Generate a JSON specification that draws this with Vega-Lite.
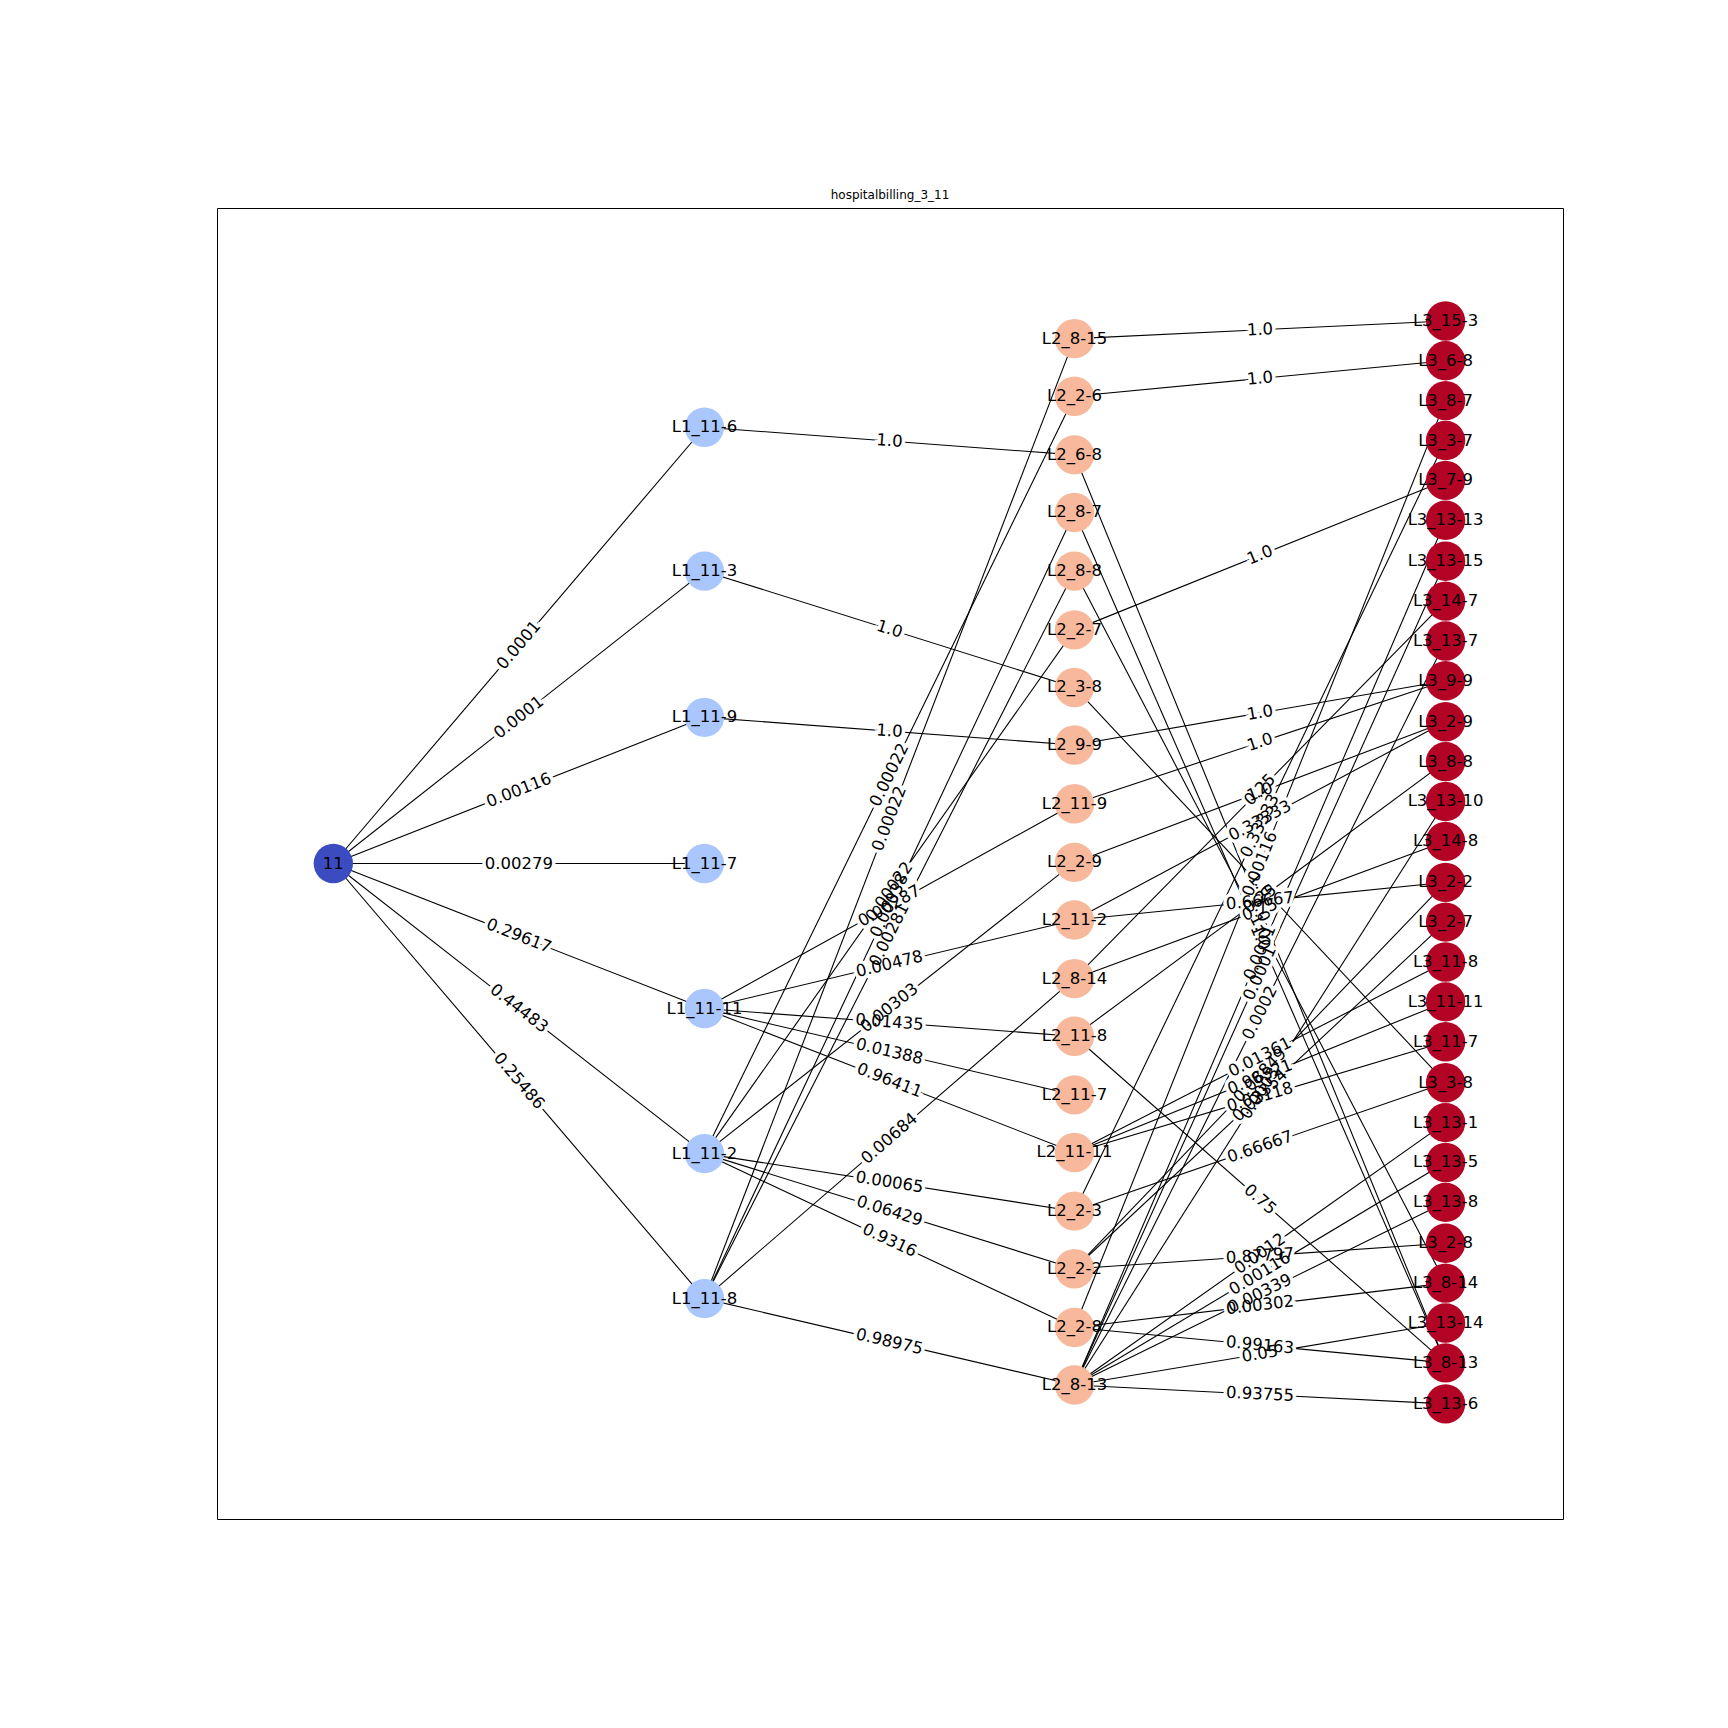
{
"$schema":"https://vega.github.io/schema/vega-lite/v6.json",
"autosize":{"type":"none"},
"width":1346,"height":1311,
"padding":{"left":217,"top":208,"right":165,"bottom":209},
"title":{"text":"hospitalbilling_3_11","fontSize":12,"font":"DejaVu Sans","fontWeight":"normal","offset":6},
"config":{"view":{"stroke":"black","strokeWidth":1}},
"datasets":{
"nodes":[
{"n":"11","x":301,"y":780,"lv":0},
{"n":"L1_11-6","x":636,"y":386,"lv":1},{"n":"L1_11-3","x":636,"y":516,"lv":1},{"n":"L1_11-9","x":636,"y":648,"lv":1},{"n":"L1_11-7","x":636,"y":780,"lv":1},{"n":"L1_11-11","x":636,"y":911,"lv":1},{"n":"L1_11-2","x":636,"y":1042,"lv":1},{"n":"L1_11-8","x":636,"y":1173,"lv":1},
{"n":"L2_8-15","x":970,"y":306,"lv":2},{"n":"L2_2-6","x":970,"y":358,"lv":2},{"n":"L2_6-8","x":970,"y":411,"lv":2},{"n":"L2_8-7","x":970,"y":463,"lv":2},{"n":"L2_8-8","x":970,"y":516,"lv":2},{"n":"L2_2-7","x":970,"y":569,"lv":2},{"n":"L2_3-8","x":970,"y":621,"lv":2},{"n":"L2_9-9","x":970,"y":673,"lv":2},{"n":"L2_11-9","x":970,"y":726,"lv":2},{"n":"L2_2-9","x":970,"y":779,"lv":2},{"n":"L2_11-2","x":970,"y":831,"lv":2},{"n":"L2_8-14","x":970,"y":884,"lv":2},{"n":"L2_11-8","x":970,"y":936,"lv":2},{"n":"L2_11-7","x":970,"y":989,"lv":2},{"n":"L2_11-11","x":970,"y":1041,"lv":2},{"n":"L2_2-3","x":970,"y":1094,"lv":2},{"n":"L2_2-2","x":970,"y":1146,"lv":2},{"n":"L2_2-8","x":970,"y":1199,"lv":2},{"n":"L2_8-13","x":970,"y":1251,"lv":2},
{"n":"L3_15-3","x":1305,"y":290,"lv":3},{"n":"L3_6-8","x":1305,"y":326,"lv":3},{"n":"L3_8-7","x":1305,"y":362,"lv":3},{"n":"L3_3-7","x":1305,"y":398,"lv":3},{"n":"L3_7-9","x":1305,"y":434,"lv":3},{"n":"L3_13-13","x":1305,"y":470,"lv":3},{"n":"L3_13-15","x":1305,"y":507,"lv":3},{"n":"L3_14-7","x":1305,"y":543,"lv":3},{"n":"L3_13-7","x":1305,"y":579,"lv":3},{"n":"L3_9-9","x":1305,"y":615,"lv":3},{"n":"L3_2-9","x":1305,"y":652,"lv":3},{"n":"L3_8-8","x":1305,"y":688,"lv":3},{"n":"L3_13-10","x":1305,"y":724,"lv":3},{"n":"L3_14-8","x":1305,"y":760,"lv":3},{"n":"L3_2-2","x":1305,"y":797,"lv":3},{"n":"L3_2-7","x":1305,"y":833,"lv":3},{"n":"L3_11-8","x":1305,"y":869,"lv":3},{"n":"L3_11-11","x":1305,"y":905,"lv":3},{"n":"L3_11-7","x":1305,"y":941,"lv":3},{"n":"L3_3-8","x":1305,"y":978,"lv":3},{"n":"L3_13-1","x":1305,"y":1014,"lv":3},{"n":"L3_13-5","x":1305,"y":1050,"lv":3},{"n":"L3_13-8","x":1305,"y":1086,"lv":3},{"n":"L3_2-8","x":1305,"y":1123,"lv":3},{"n":"L3_8-14","x":1305,"y":1159,"lv":3},{"n":"L3_13-14","x":1305,"y":1195,"lv":3},{"n":"L3_8-13","x":1305,"y":1231,"lv":3},{"n":"L3_13-6","x":1305,"y":1268,"lv":3}
],
"edges":[
{"s":"11","t":"L1_11-6","w":"0.0001"},{"s":"11","t":"L1_11-3","w":"0.0001"},{"s":"11","t":"L1_11-9","w":"0.00116"},{"s":"11","t":"L1_11-7","w":"0.00279"},{"s":"11","t":"L1_11-11","w":"0.29617"},{"s":"11","t":"L1_11-2","w":"0.44483"},{"s":"11","t":"L1_11-8","w":"0.25486"},
{"s":"L1_11-6","t":"L2_6-8","w":"1.0"},{"s":"L1_11-3","t":"L2_3-8","w":"1.0"},{"s":"L1_11-9","t":"L2_9-9","w":"1.0"},
{"s":"L1_11-11","t":"L2_11-9","w":"0.00287"},{"s":"L1_11-11","t":"L2_11-2","w":"0.00478"},{"s":"L1_11-11","t":"L2_11-8","w":"0.01435"},{"s":"L1_11-11","t":"L2_11-7","w":"0.01388"},{"s":"L1_11-11","t":"L2_11-11","w":"0.96411"},
{"s":"L1_11-2","t":"L2_2-6","w":"0.00022"},{"s":"L1_11-2","t":"L2_2-7","w":"0.00022"},{"s":"L1_11-2","t":"L2_2-9","w":"0.00303"},{"s":"L1_11-2","t":"L2_2-3","w":"0.00065"},{"s":"L1_11-2","t":"L2_2-2","w":"0.06429"},{"s":"L1_11-2","t":"L2_2-8","w":"0.9316"},
{"s":"L1_11-8","t":"L2_8-15","w":"0.00022"},{"s":"L1_11-8","t":"L2_8-7","w":"0.00038"},{"s":"L1_11-8","t":"L2_8-8","w":"0.00281"},{"s":"L1_11-8","t":"L2_8-14","w":"0.00684"},{"s":"L1_11-8","t":"L2_8-13","w":"0.98975"},
{"s":"L2_8-15","t":"L3_15-3","w":"1.0"},{"s":"L2_2-6","t":"L3_6-8","w":"1.0"},{"s":"L2_2-7","t":"L3_7-9","w":"1.0"},{"s":"L2_9-9","t":"L3_9-9","w":"1.0"},{"s":"L2_11-9","t":"L3_9-9","w":"1.0"},{"s":"L2_2-9","t":"L3_2-9","w":"1.0"},
{"s":"L2_6-8","t":"L3_8-13","w":"1.0"},{"s":"L2_8-7","t":"L3_8-13","w":"1.0"},{"s":"L2_8-8","t":"L3_8-14","w":"1.0"},{"s":"L2_3-8","t":"L3_3-8","w":"1.0"},
{"s":"L2_11-2","t":"L3_2-9","w":"0.33333"},{"s":"L2_11-2","t":"L3_2-2","w":"0.66667"},
{"s":"L2_8-14","t":"L3_14-8","w":"0.75"},{"s":"L2_8-14","t":"L3_14-7","w":"0.25"},
{"s":"L2_11-8","t":"L3_8-13","w":"0.75"},{"s":"L2_11-8","t":"L3_8-8","w":"0.25"},
{"s":"L2_11-11","t":"L3_11-8","w":"0.01361"},{"s":"L2_11-11","t":"L3_11-11","w":"0.96521"},{"s":"L2_11-11","t":"L3_11-7","w":"0.02118"},
{"s":"L2_2-3","t":"L3_3-8","w":"0.66667"},{"s":"L2_2-3","t":"L3_3-7","w":"0.33333"},
{"s":"L2_2-2","t":"L3_2-8","w":"0.87797"},{"s":"L2_2-2","t":"L3_2-2","w":"0.08849"},{"s":"L2_2-2","t":"L3_2-7","w":"0.03354"},
{"s":"L2_2-8","t":"L3_8-13","w":"0.99163"},{"s":"L2_2-8","t":"L3_8-14","w":"0.00302"},{"s":"L2_2-8","t":"L3_8-7","w":"0.00116"},
{"s":"L2_8-13","t":"L3_13-6","w":"0.93755"},{"s":"L2_8-13","t":"L3_13-14","w":"0.05"},{"s":"L2_8-13","t":"L3_13-8","w":"0.00339"},{"s":"L2_8-13","t":"L3_13-5","w":"0.00116"},{"s":"L2_8-13","t":"L3_13-1","w":"0.0012"},{"s":"L2_8-13","t":"L3_13-10","w":"0.0003"},{"s":"L2_8-13","t":"L3_13-7","w":"0.0002"},{"s":"L2_8-13","t":"L3_13-15","w":"0.0001"},{"s":"L2_8-13","t":"L3_13-13","w":"0.0001"}
]},
"layer":[
{"data":{"name":"edges"},
 "transform":[
  {"lookup":"s","from":{"data":{"name":"nodes"},"key":"n","fields":["x","y"]},"as":["x1","y1"]},
  {"lookup":"t","from":{"data":{"name":"nodes"},"key":"n","fields":["x","y"]},"as":["x2","y2"]},
  {"calculate":"(datum.x1+datum.x2)/2","as":"mx"},{"calculate":"(datum.y1+datum.y2)/2","as":"my"},
  {"calculate":"atan2((datum.y2-datum.y1),(datum.x2-datum.x1))*180/PI","as":"ang"}
 ],
 "layer":[
  {"mark":{"type":"rule","color":"black","strokeWidth":1.1},
   "encoding":{"x":{"field":"x1","type":"quantitative","scale":{"domain":[196,1411]},"axis":null},"y":{"field":"y1","type":"quantitative","scale":{"domain":[1372,188]},"axis":null},"x2":{"field":"x2"},"y2":{"field":"y2"}}},
  {"mark":{"type":"text","fontSize":16.5,"font":"DejaVu Sans","stroke":"white","strokeWidth":7,"color":"white"},
   "encoding":{"x":{"field":"mx","type":"quantitative","scale":{"domain":[196,1411]},"axis":null},"y":{"field":"my","type":"quantitative","scale":{"domain":[1372,188]},"axis":null},"text":{"field":"w"},"angle":{"field":"ang","type":"quantitative","scale":null}}},
  {"mark":{"type":"text","fontSize":16.5,"font":"DejaVu Sans","color":"black"},
   "encoding":{"x":{"field":"mx","type":"quantitative","scale":{"domain":[196,1411]},"axis":null},"y":{"field":"my","type":"quantitative","scale":{"domain":[1372,188]},"axis":null},"text":{"field":"w"},"angle":{"field":"ang","type":"quantitative","scale":null}}}
 ]},
{"data":{"name":"nodes"},
 "layer":[
  {"mark":{"type":"circle","size":1550,"opacity":1},
   "encoding":{"x":{"field":"x","type":"quantitative","scale":{"domain":[196,1411]},"axis":null},"y":{"field":"y","type":"quantitative","scale":{"domain":[1372,188]},"axis":null},
   "color":{"field":"lv","type":"ordinal","scale":{"domain":[0,1,2,3],"range":["#3b4cc0","#aac7fd","#f7b89c","#b40426"]},"legend":null}}},
  {"mark":{"type":"text","fontSize":16.5,"font":"DejaVu Sans","color":"black"},
   "encoding":{"x":{"field":"x","type":"quantitative","scale":{"domain":[196,1411]},"axis":null},"y":{"field":"y","type":"quantitative","scale":{"domain":[1372,188]},"axis":null},"text":{"field":"n"}}}
 ]}
]
}
